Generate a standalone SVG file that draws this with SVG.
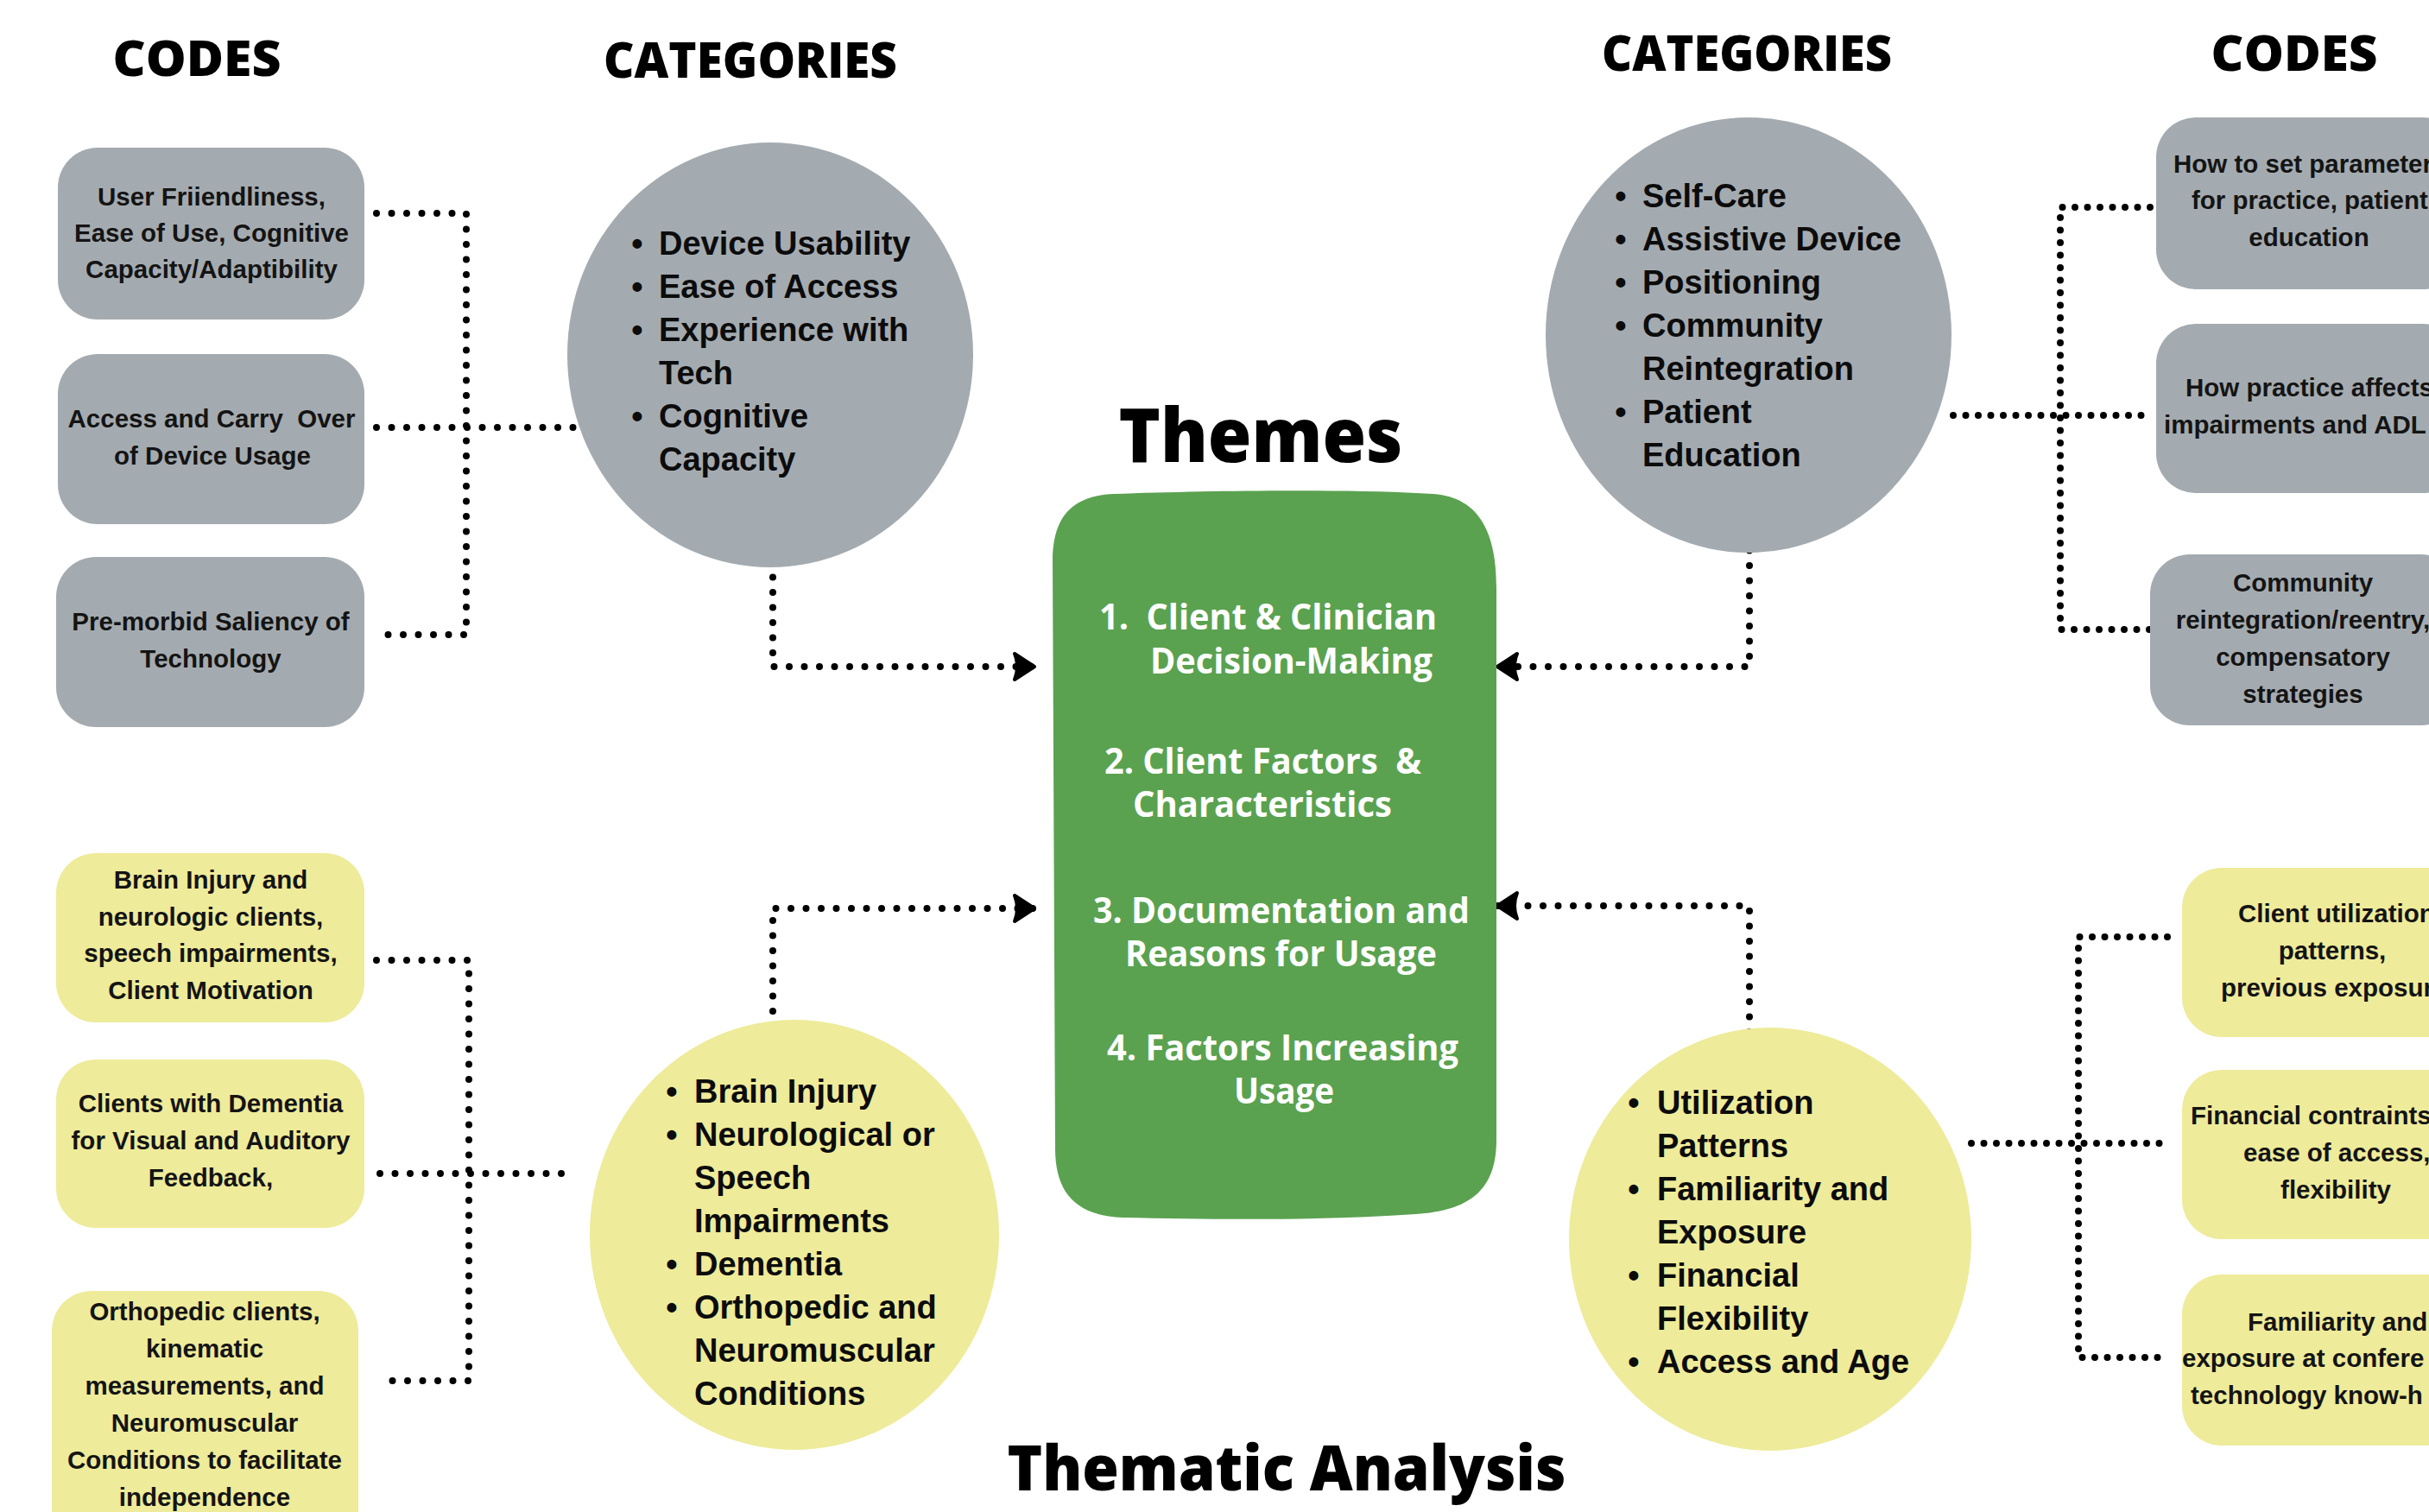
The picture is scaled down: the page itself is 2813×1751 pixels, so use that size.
<svg xmlns="http://www.w3.org/2000/svg" width="2813" height="1751" viewBox="0 0 2813 1751">
  <style>
    .hd { font-family: "Open Sans", "Liberation Sans", sans-serif; font-weight: 800; fill: #000; }
    .code { font-family: "Liberation Sans", Arial, sans-serif; font-weight: 700; font-size: 29.5px; fill: #141414; text-anchor: middle; }
    .codeL { font-family: "Liberation Sans", Arial, sans-serif; font-weight: 700; font-size: 29.5px; fill: #141414; }
    .cat { font-family: "Liberation Sans", Arial, sans-serif; font-weight: 700; font-size: 38px; fill: #0c0c0c; }
    .bul { font-family: "Liberation Sans", Arial, sans-serif; font-weight: 700; font-size: 38px; fill: #0c0c0c; text-anchor: middle; }
    .theme { font-family: "Open Sans", "Liberation Sans", sans-serif; font-weight: 700; font-size: 42px; fill: #ffffff; white-space: pre; }
    .gray { fill: #a4abb0; }
    .yel { fill: #eeeb9a; }
    .green { fill: #5aa250; }
    .dots { fill: none; stroke: #000; stroke-width: 8; stroke-linecap: round; }
    .dl { stroke-dasharray: 0 17.5; }
    .dr { stroke-dasharray: 0 14.5; }
  </style>
  <defs>
    <marker id="arrow" markerUnits="userSpaceOnUse" markerWidth="34" markerHeight="40" viewBox="-30 -20 34 40" refX="0" refY="0" orient="auto">
      <path d="M0,0 L-23,-15 Q-17,0 -23,15 Z" fill="#000" stroke="#000" stroke-width="4" stroke-linejoin="round"/>
    </marker>
  </defs>

  <rect width="2813" height="1751" fill="#ffffff"/>

  <!-- headings -->
  <g id="headings">
    <text class="hd" x="228" y="88" font-size="56" text-anchor="middle" textLength="195" lengthAdjust="spacingAndGlyphs">CODES</text>
    <text class="hd" x="869" y="90" font-size="56" text-anchor="middle" textLength="340" lengthAdjust="spacingAndGlyphs">CATEGORIES</text>
    <text class="hd" x="2023" y="82" font-size="56" text-anchor="middle" textLength="336" lengthAdjust="spacingAndGlyphs">CATEGORIES</text>
    <text class="hd" x="2657" y="82" font-size="56" text-anchor="middle" textLength="193" lengthAdjust="spacingAndGlyphs">CODES</text>
    <text class="hd" x="1460" y="535" font-size="86" text-anchor="middle" textLength="329" lengthAdjust="spacingAndGlyphs">Themes</text>
    <text class="hd" x="1490" y="1726" font-size="73" text-anchor="middle" textLength="647" lengthAdjust="spacingAndGlyphs">Thematic Analysis</text>
  </g>

  <!-- dotted connectors -->
  <g id="connectors" class="dots">
    <!-- upper left: codes to category -->
    <path class="dl" d="M436,247 H540 V735 H436"/>
    <path class="dl" d="M436,495 H666"/>
    <path class="dl" d="M895,581 V772 H1198" marker-end="url(#arrow)"/>
    <!-- upper right -->
    <path class="dr" d="M2490,240 H2386 V729 H2490"/>
    <path class="dr" d="M2262,481 H2490"/>
    <path class="dl" d="M2026,585 V772 H1734" marker-end="url(#arrow)"/>
    <!-- lower left -->
    <path class="dl" d="M436,1112 H543 V1599 H440"/>
    <path class="dl" d="M440,1359 H666"/>
    <path class="dl" d="M895,1241 V1052 H1198" marker-end="url(#arrow)"/>
    <!-- lower right -->
    <path class="dr" d="M2510,1085 H2407 V1572 H2510"/>
    <path class="dr" d="M2283,1324 H2510"/>
    <path class="dl" d="M2026,1230 V1049 H1734" marker-end="url(#arrow)"/>
  </g>

  <!-- themes -->
  <g id="themes">
    <path class="green" d="M1290,572 C1400,568 1560,566 1660,572 C1715,576 1733,620 1733,680 L1733,1320 C1733,1380 1700,1402 1640,1406 C1520,1414 1400,1412 1300,1410 C1245,1408 1222,1380 1222,1330 L1219,650 C1219,600 1240,574 1290,572 Z"/>
    <text class="theme" x="1273" y="729" textLength="391" lengthAdjust="spacingAndGlyphs">1.  Client &amp; Clinician</text>
    <text class="theme" x="1332" y="780" textLength="327" lengthAdjust="spacingAndGlyphs">Decision-Making</text>
    <text class="theme" x="1279" y="896" textLength="367" lengthAdjust="spacingAndGlyphs">2. Client Factors  &amp;</text>
    <text class="theme" x="1312" y="946" textLength="300" lengthAdjust="spacingAndGlyphs">Characteristics</text>
    <text class="theme" x="1266" y="1069" textLength="436" lengthAdjust="spacingAndGlyphs">3. Documentation and</text>
    <text class="theme" x="1303" y="1119" textLength="361" lengthAdjust="spacingAndGlyphs">Reasons for Usage</text>
    <text class="theme" x="1282" y="1228" textLength="407" lengthAdjust="spacingAndGlyphs">4. Factors Increasing</text>
    <text class="theme" x="1429" y="1278" textLength="116" lengthAdjust="spacingAndGlyphs">Usage</text>
  </g>

  <!-- upper left codes -->
  <g id="code-user-friendliness">
    <rect class="gray" x="67" y="171" width="355" height="199" rx="46"/>
    <text class="code" x="245" y="238">User Friiendliness,</text>
    <text class="code" x="245" y="280">Ease of Use, Cognitive</text>
    <text class="code" x="245" y="322">Capacity/Adaptibility</text>
  </g>
  <g id="code-access-carry-over">
    <rect class="gray" x="67" y="410" width="355" height="197" rx="46"/>
    <text class="code" x="245" y="495" style="white-space:pre">Access and Carry  Over</text>
    <text class="code" x="246" y="538">of Device Usage</text>
  </g>
  <g id="code-premorbid">
    <rect class="gray" x="65" y="645" width="357" height="197" rx="46"/>
    <text class="code" x="244" y="730">Pre-morbid Saliency of</text>
    <text class="code" x="244" y="773">Technology</text>
  </g>

  <!-- upper left category -->
  <g id="cat-device">
    <ellipse class="gray" cx="892" cy="411" rx="235" ry="246"/>
    <text class="bul" x="738" y="295">•</text>
    <text class="cat" x="763" y="295">Device Usability</text>
    <text class="bul" x="738" y="345">•</text>
    <text class="cat" x="763" y="345">Ease of Access</text>
    <text class="bul" x="738" y="395">•</text>
    <text class="cat" x="763" y="395">Experience with</text>
    <text class="cat" x="763" y="445">Tech</text>
    <text class="bul" x="738" y="495">•</text>
    <text class="cat" x="763" y="495">Cognitive</text>
    <text class="cat" x="763" y="545">Capacity</text>
  </g>

  <!-- upper right category -->
  <g id="cat-selfcare">
    <ellipse class="gray" cx="2025" cy="388" rx="235" ry="252"/>
    <text class="bul" x="1877" y="240">•</text>
    <text class="cat" x="1902" y="240">Self-Care</text>
    <text class="bul" x="1877" y="290">•</text>
    <text class="cat" x="1902" y="290">Assistive Device</text>
    <text class="bul" x="1877" y="340">•</text>
    <text class="cat" x="1902" y="340">Positioning</text>
    <text class="bul" x="1877" y="390">•</text>
    <text class="cat" x="1902" y="390">Community</text>
    <text class="cat" x="1902" y="440">Reintegration</text>
    <text class="bul" x="1877" y="490">•</text>
    <text class="cat" x="1902" y="490">Patient</text>
    <text class="cat" x="1902" y="540">Education</text>
  </g>

  <!-- upper right codes -->
  <g id="code-parameters">
    <rect class="gray" x="2497" y="136" width="355" height="199" rx="46"/>
    <text class="codeL" x="2517" y="200">How to set parameter</text>
    <text class="codeL" x="2538" y="242">for practice, patient</text>
    <text class="code" x="2674" y="285">education</text>
  </g>
  <g id="code-practice-affects">
    <rect class="gray" x="2497" y="375" width="355" height="196" rx="46"/>
    <text class="codeL" x="2531" y="459">How practice affects</text>
    <text class="codeL" x="2506" y="502">impairments and ADL</text>
  </g>
  <g id="code-community">
    <rect class="gray" x="2490" y="642" width="360" height="198" rx="46"/>
    <text class="code" x="2667" y="685">Community</text>
    <text class="code" x="2667" y="728">reintegration/reentry,</text>
    <text class="code" x="2667" y="771">compensatory</text>
    <text class="code" x="2667" y="814">strategies</text>
  </g>

  <!-- lower left codes -->
  <g id="code-brain-injury">
    <rect class="yel" x="65" y="988" width="357" height="196" rx="46"/>
    <text class="code" x="244" y="1029">Brain Injury and</text>
    <text class="code" x="244" y="1072">neurologic clients,</text>
    <text class="code" x="244" y="1114">speech impairments,</text>
    <text class="code" x="244" y="1157">Client Motivation</text>
  </g>
  <g id="code-dementia">
    <rect class="yel" x="65" y="1227" width="357" height="195" rx="46"/>
    <text class="code" x="244" y="1288">Clients with Dementia</text>
    <text class="code" x="244" y="1331">for Visual and Auditory</text>
    <text class="code" x="244" y="1374">Feedback,</text>
  </g>
  <g id="code-orthopedic">
    <rect class="yel" x="60" y="1495" width="355" height="320" rx="46"/>
    <text class="code" x="237" y="1529">Orthopedic clients,</text>
    <text class="code" x="237" y="1572">kinematic</text>
    <text class="code" x="237" y="1615">measurements, and</text>
    <text class="code" x="237" y="1658">Neuromuscular</text>
    <text class="code" x="237" y="1701">Conditions to facilitate</text>
    <text class="code" x="237" y="1744">independence</text>
  </g>

  <!-- lower left category -->
  <g id="cat-conditions">
    <ellipse class="yel" cx="920" cy="1430" rx="237" ry="249"/>
    <text class="bul" x="778" y="1277">•</text>
    <text class="cat" x="804" y="1277">Brain Injury</text>
    <text class="bul" x="778" y="1327">•</text>
    <text class="cat" x="804" y="1327">Neurological or</text>
    <text class="cat" x="804" y="1377">Speech</text>
    <text class="cat" x="804" y="1427">Impairments</text>
    <text class="bul" x="778" y="1477">•</text>
    <text class="cat" x="804" y="1477">Dementia</text>
    <text class="bul" x="778" y="1527">•</text>
    <text class="cat" x="804" y="1527">Orthopedic and</text>
    <text class="cat" x="804" y="1577">Neuromuscular</text>
    <text class="cat" x="804" y="1627">Conditions</text>
  </g>

  <!-- lower right category -->
  <g id="cat-utilization">
    <ellipse class="yel" cx="2050" cy="1435" rx="233" ry="245"/>
    <text class="bul" x="1892" y="1290">•</text>
    <text class="cat" x="1919" y="1290">Utilization</text>
    <text class="cat" x="1919" y="1340">Patterns</text>
    <text class="bul" x="1892" y="1390">•</text>
    <text class="cat" x="1919" y="1390">Familiarity and</text>
    <text class="cat" x="1919" y="1440">Exposure</text>
    <text class="bul" x="1892" y="1490">•</text>
    <text class="cat" x="1919" y="1490">Financial</text>
    <text class="cat" x="1919" y="1540">Flexibility</text>
    <text class="bul" x="1892" y="1590">•</text>
    <text class="cat" x="1919" y="1590">Access and Age</text>
  </g>

  <!-- lower right codes -->
  <g id="code-utilization">
    <rect class="yel" x="2527" y="1005" width="355" height="196" rx="46"/>
    <text class="codeL" x="2592" y="1068">Client utilization</text>
    <text class="code" x="2701" y="1111">patterns,</text>
    <text class="codeL" x="2572" y="1154">previous exposur</text>
  </g>
  <g id="code-financial">
    <rect class="yel" x="2527" y="1239" width="355" height="196" rx="46"/>
    <text class="codeL" x="2537" y="1302">Financial contraints</text>
    <text class="codeL" x="2598" y="1345">ease of access,</text>
    <text class="code" x="2705" y="1388">flexibility</text>
  </g>
  <g id="code-familiarity">
    <rect class="yel" x="2527" y="1476" width="355" height="198" rx="46"/>
    <text class="codeL" x="2603" y="1541">Familiarity and</text>
    <text class="codeL" x="2527" y="1583">exposure at confere</text>
    <text class="codeL" x="2537" y="1626">technology know-h</text>
  </g>
</svg>
